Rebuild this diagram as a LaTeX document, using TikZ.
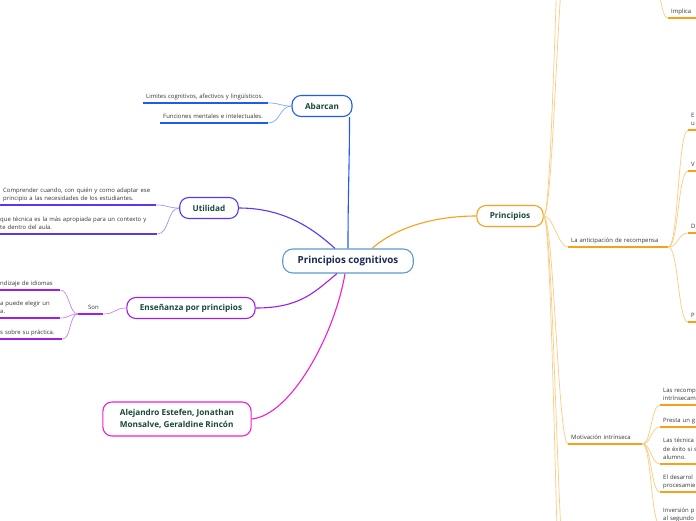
\documentclass[tikz,border=0pt]{standalone}
\usepackage{fontspec}
\setmainfont{Open Sans}
\usepackage{tikz}
\usetikzlibrary{positioning}
\definecolor{bleuciel}{HTML}{5B9BD5}
\definecolor{marine}{HTML}{1B2A52}
\definecolor{vertfonce}{HTML}{17483A}
\definecolor{texte}{HTML}{333333}
\definecolor{bleuvif}{HTML}{1F5BF2}
\definecolor{indigo}{HTML}{5B38EE}
\definecolor{pourpre}{HTML}{A01EE6}
\definecolor{rose}{HTML}{F01ED6}
\definecolor{orangevif}{HTML}{F7A11A}

\begin{document}
\begin{tikzpicture}[x=1pt, y=-1pt,
    racine/.style={draw=bleuciel, line width=1.1pt, rounded corners=10pt, fill=white, text=marine,
      font=\bfseries\fontsize{9.8}{12}\selectfont, minimum height=24pt, inner xsep=15pt},
    branche/.style={draw=#1, line width=1.1pt, rounded corners=9pt, fill=white, text=vertfonce,
      font=\bfseries\fontsize{8.2}{11.5}\selectfont, minimum height=21pt, inner xsep=13pt, align=left},
    feuille/.style={anchor=south west, inner xsep=3pt, inner ysep=1.5pt, align=left, text=texte,
      font=\fontsize{5.95}{8.6}\selectfont},
    trait/.style={draw=#1, line width=1.4pt},
    lien/.style={draw=#1, line width=0.7pt},
    tronc/.style={draw=#1, line width=1.1pt}]
    \useasboundingbox[fill=white] (0,0) rectangle (696,520);
    % Noeuds principaux
    \node[racine] (centre) at (348,261) {Principios cognitivos};
    \node[branche=bleuvif] (abarcan) at (322,106) {Abarcan};
    \node[branche=indigo] (utilidad) at (209,208) {Utilidad};
    \node[branche=pourpre] (ensenanza) at (191,308) {Enseñanza por principios};
    \node[branche=rose, minimum height=34pt, inner xsep=17pt] (auteurs) at (177,419) {Alejandro Estefen, Jonathan\\Monsalve, Geraldine Rincón};
    \node[branche=orangevif] (principios) at (510,216) {Principios};
    % Branches
    \draw[tronc=bleuvif] (centre.north) .. controls +(0,-60) and +(0,50) .. ([xshift=-3pt]abarcan.south east);
    \draw[tronc=indigo] (utilidad.east) .. controls +(45,0) and +(-22,-20) .. ([xshift=-13pt]centre.north);
    \draw[tronc=pourpre] (ensenanza.east) .. controls +(45,0) and +(-22,18) .. ([xshift=-11pt]centre.south);
    \draw[tronc=rose] (auteurs.east) .. controls +(40,-4) and +(-10,60) .. ([xshift=-3pt]centre.south);
    \draw[tronc=orangevif] ([xshift=24pt]centre.north) .. controls +(25,-22) and +(-40,0) .. (principios.west);
    % Feuilles : nom, gauche, droite, y du trait, couleur, texte
    \foreach \nom/\g/\d/\y/\coul/\txt in {
      limites/143/268/103/bleuvif/{Limites cognitivos, afectivos y lingüísticos.},
      fonctions/160/268/123/bleuvif/{Funciones mentales e intelectuales.},
      comprendre/0/156/205/indigo/{Comprender cuando, con quién y como adaptar ese\\principio a las necesidades de los estudiantes.},
      technique/-3/157/234/indigo/{que técnica es la más apropiada para un contexto y\\te dentro del aula.},
      son/78/103/314/pourpre/{\hspace*{7pt}Son},
      idiomas/-3/60/290/pourpre/{ndizaje de idiomas},
      choisir/-3/60/318/pourpre/{a puede elegir un\\a.},
      pratique/-3/62/339/pourpre/{s sobre su práctica.},
      anticipacion/568/668/247/orangevif/{La anticipación de recompensa},
      motivacion/568/642/444/orangevif/{Motivación intrínseca},
      ant1/688/720/130/orangevif/{E\\u},
      ant2/688/720/171/orangevif/{V},
      ant3/688/720/233/orangevif/{D},
      ant4/688/720/322/orangevif/{P},
      mot1/660/720/405/orangevif/{Las recomp\\intrínsecam},
      mot2/660/720/427/orangevif/{Presta un g},
      mot3/660/720/464/orangevif/{Las técnica\\de éxito si s\\alumno.},
      mot4/660/720/492/orangevif/{El desarrol\\procesamie},
      mot5/660/720/525/orangevif/{Inversión p\\al segundo},
      implica/668/720/18/orangevif/{Implica}} {
      \pgfmathsetmacro{\lt}{\d-\g-6}
      \node[feuille, text width=\lt pt] (\nom) at (\g,\y) {\txt\strut};
      \draw[trait=\coul] (\nom.south west) -- (\nom.south east);
    }
    % Liens vers les feuilles
    \foreach \f in {limites, fonctions}
      \draw[lien=bleuvif!55] (abarcan.west) .. controls +(-12,0) and +(12,0) .. (\f.south east);
    \foreach \f in {comprendre, technique}
      \draw[lien=indigo!55] (utilidad.west) .. controls +(-12,0) and +(12,0) .. (\f.south east);
    \draw[lien=pourpre!55] (ensenanza.west) .. controls +(-12,0) and +(12,0) .. (son.south east);
    \foreach \f in {idiomas, choisir, pratique}
      \draw[lien=pourpre!55] (son.south west) .. controls +(-9,0) and +(9,0) .. (\f.south east);
    % Principios : sous-branches hors cadre
    \coordinate (haut1) at (568,-200);
    \coordinate (haut2) at (568,-60);
    \coordinate (bas1) at (568,600);
    \coordinate (bas2) at (568,760);
    \coordinate (origine) at (650,-40);
    \foreach \f in {haut1, haut2, bas1, bas2, anticipacion.south west, motivacion.south west}
      \draw[lien=orangevif!55] (principios.east) .. controls +(10,0) and +(-10,0) .. (\f);
    \foreach \f in {ant1, ant2, ant3, ant4}
      \draw[lien=orangevif!55] (anticipacion.south east) .. controls +(10,0) and +(-10,0) .. (\f.south west);
    \foreach \f in {mot1, mot2, mot3, mot4, mot5}
      \draw[lien=orangevif!55] (motivacion.south east) .. controls +(9,0) and +(-9,0) .. (\f.south west);
    \draw[lien=orangevif!55] (origine) .. controls +(10,0) and +(-10,0) .. (implica.south west);
  \end{tikzpicture}
\end{document}
